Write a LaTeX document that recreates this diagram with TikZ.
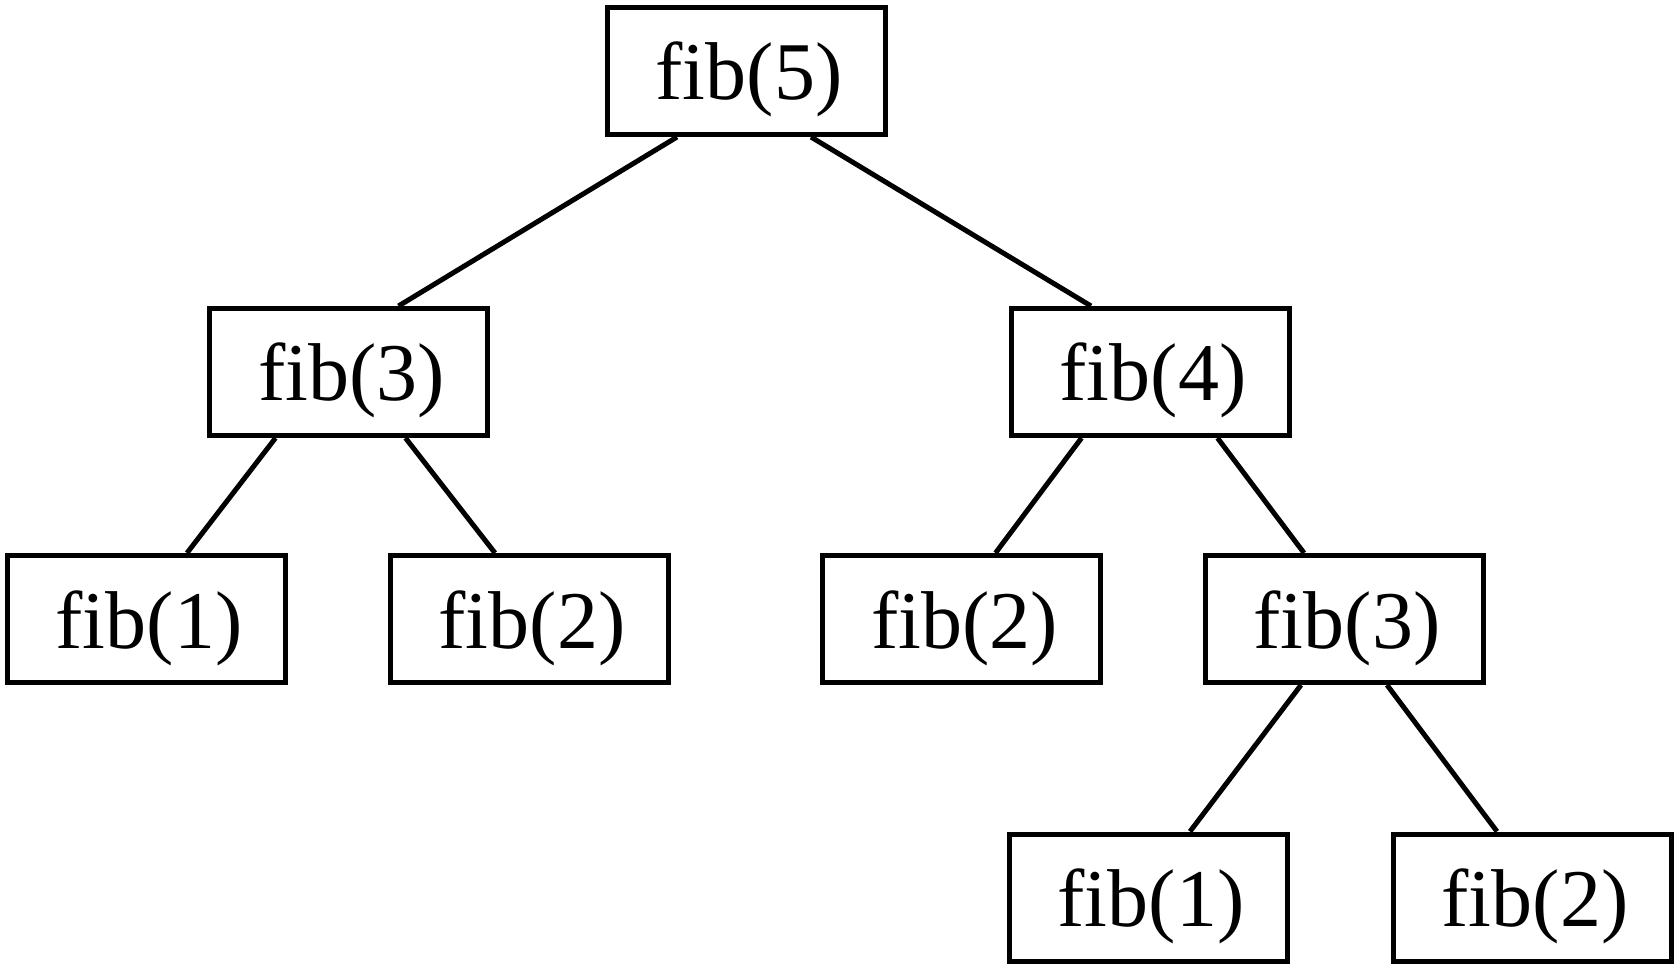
\documentclass[tikz,border=0pt]{standalone}
\usepackage{fontspec}
\setmainfont{Liberation Serif}
\usetikzlibrary{calc}
\begin{document}
\begin{tikzpicture}[x=1pt,y=-1pt,
  box/.style={draw,line width=5pt,rectangle,minimum width=278pt,minimum height=127pt,inner sep=0pt,text height=70pt,text depth=12pt,font=\fontsize{82}{98}\selectfont},
  edge/.style={line width=5pt}]
\useasboundingbox (0,0) rectangle (1679,965);
\node[box] (n5) at (746,71) {\hspace*{6pt}fib(5)};
\node[box] (n3a) at (348.5,372) {\hspace*{6pt}fib(3)};
\node[box] (n4) at (1150,372) {\hspace*{6pt}fib(4)};
\node[box] (n1a) at (146,619) {\hspace*{6pt}fib(1)};
\node[box] (n2a) at (529,619) {\hspace*{6pt}fib(2)};
\node[box] (n2b) at (961.5,619) {\hspace*{6pt}fib(2)};
\node[box] (n3b) at (1344,619) {\hspace*{6pt}fib(3)};
\node[box] (n1b) at (1148,897.5) {\hspace*{6pt}fib(1)};
\node[box] (n2c) at (1532,897.5) {\hspace*{6pt}fib(2)};
\draw[edge] ($(n5.south)+(-69,0)$) -- ($(n3a.north)+(50,0)$);
\draw[edge] ($(n5.south)+(65,0)$) -- ($(n4.north)+(-59,0)$);
\draw[edge] ($(n3a.south)+(-73,0)$) -- ($(n1a.north)+(41,0)$);
\draw[edge] ($(n3a.south)+(57,0)$) -- ($(n2a.north)+(-34,0)$);
\draw[edge] ($(n4.south)+(-68.5,0)$) -- ($(n2b.north)+(34,0)$);
\draw[edge] ($(n4.south)+(67.5,0)$) -- ($(n3b.north)+(-40,0)$);
\draw[edge] ($(n3b.south)+(-43,0)$) -- ($(n1b.north)+(42,0)$);
\draw[edge] ($(n3b.south)+(43,0)$) -- ($(n2c.north)+(-35,0)$);
\end{tikzpicture}
\end{document}
